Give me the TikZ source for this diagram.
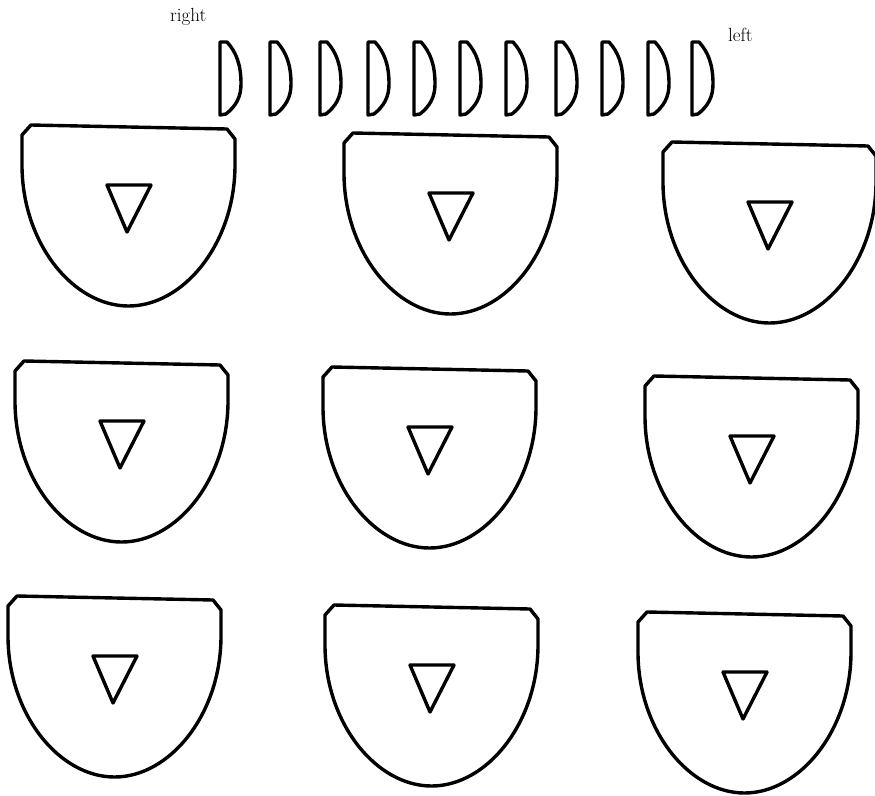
\documentclass[tikz,border=0pt]{standalone}
\usepackage{fontspec}
\tikzset{
  outline/.style={line width=3.4pt, line join=round, line cap=round},
  lbl/.style={font=\fontsize{19}{22}\selectfont, anchor=base west, inner sep=0pt},
  cup/.pic={
    \draw[outline] (9,0) -- (205,4) -- (213,14) -- (213,40)
      .. controls (213,118) and (162,181) .. (106.5,181)
      .. controls (51,181) and (0,118) .. (0,40) -- (0,10) -- cycle;
    \draw[outline] (85,60) -- (129,60) -- (105,107) -- cycle;
  },
  lens/.pic={
    \draw[outline] (0,0) -- (7,0) .. controls (16,10) and (21,22) .. (21,42)
      .. controls (21,55) and (16,64) .. (6,72) -- (0,73) -- cycle;
  }
}
\begin{document}
\begin{tikzpicture}[x=1pt,y=-1pt]
  \useasboundingbox (0,0) rectangle (875,795);
  % labels
  \node[lbl] (rlabel) at (170,21.5) {right};
  \node[lbl] (llabel) at (728,41) {left};
  % row of lenses
  \foreach \xx [count=\i] in {220,270,320,368,414,460,506,556,602,648,692}
    \pic (lens\i) at (\xx,42) {lens};
  % cups
  \pic (cupA) at (22,125) {cup};
  \pic (cupB) at (344,133) {cup};
  \pic (cupC) at (663,142) {cup};
  \pic (cupD) at (15,361) {cup};
  \pic (cupE) at (323,367) {cup};
  \pic (cupF) at (645,376) {cup};
  \pic (cupG) at (8,596) {cup};
  \pic (cupH) at (325,605) {cup};
  \pic (cupI) at (638,612) {cup};
\end{tikzpicture}
\end{document}
